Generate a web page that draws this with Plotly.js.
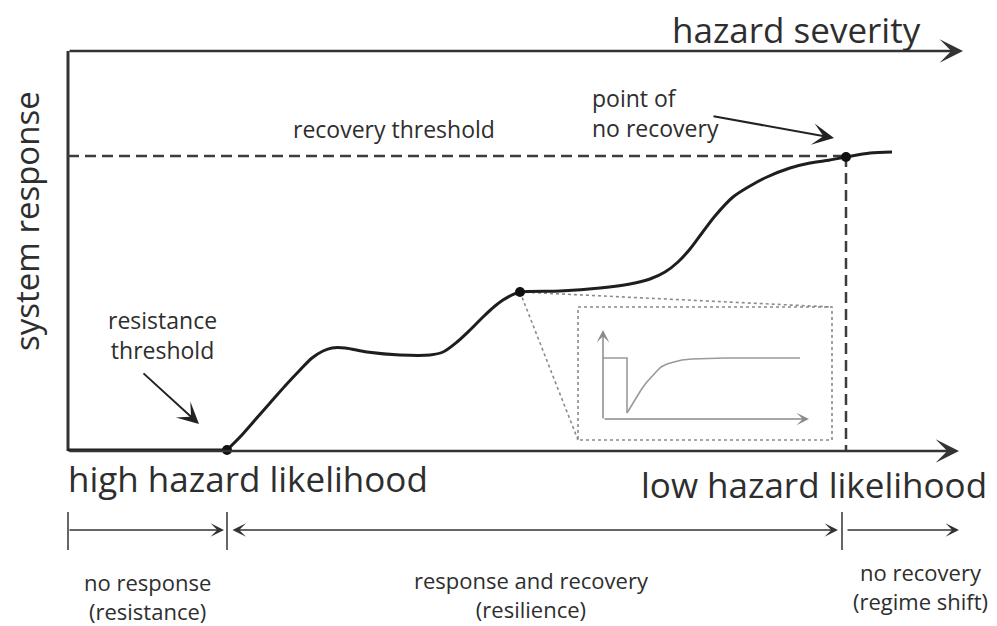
<!DOCTYPE html>
<html>
<head>
<meta charset="utf-8">
<script src="https://cdn.plot.ly/plotly-3.0.1.min.js"></script>
<style>html,body{margin:0;padding:0;background:#fff;}#chart{width:997px;height:626px;}</style>
</head>
<body>
<div id="chart"></div>
<script>
// ---- Data (diagram coordinates) ----
// flat no-response part of the curve
const flatX = [68, 227];
const flatY = [450, 450];
// main system-response curve after the resistance threshold
const curveX = [227, 240, 255, 270, 285, 300, 312, 323, 332, 345, 367, 400, 430, 443, 457, 470, 483, 495, 503, 512, 520,
                560, 600, 630, 650, 665, 678, 690, 702, 715, 733, 750, 767, 790, 810, 830, 846, 870, 892];
const curveY = [450, 437, 420, 403, 386, 370, 358, 351, 348, 348, 352, 355, 355, 352, 342, 330, 317, 306, 300, 295, 292,
                291, 288, 284, 279, 272, 262, 249, 233, 216, 197, 186, 177, 168, 163, 160, 157, 153, 152];
// key points: resistance threshold, start of recovery plateau, point of no recovery
const keyX = [227, 520, 846];
const keyY = [450, 292, 157];
// inset: pre-shock level and drop
const insetStepX = [603, 627, 627];
const insetStepY = [358, 358, 413];
// inset: recovery curve after the shock
const insetRecX = [627, 631, 636, 641, 646, 651, 656, 661, 667, 674, 682, 692, 705, 725, 760, 800];
const insetRecY = [413, 406, 398, 390, 383, 377, 372, 367, 364, 362, 360, 359, 358.5, 358, 358, 358];

// labels
const labels = {
  top: 'hazard severity',
  left: 'system response',
  recovery: 'recovery threshold',
  noRecoveryPt: 'point of<br>no recovery',
  resistance: 'resistance<br>threshold',
  high: 'high hazard likelihood',
  low: 'low hazard likelihood',
  zone1: 'no response<br>(resistance)',
  zone2: 'response and recovery<br>(resilience)',
  zone3: 'no recovery<br>(regime shift)'
};

const FONT = 'Open Sans, sans-serif';
const TXT = '#2e2e2e';
const DARK = '#333333';
const GRAY = '#8a8a8a';

const traces = [
  {x: insetStepX, y: insetStepY, mode: 'lines', line: {color: '#9a9a9a', width: 1.6}, hoverinfo: 'skip'},
  {x: insetRecX, y: insetRecY, mode: 'lines', line: {color: '#9a9a9a', width: 1.6}, hoverinfo: 'skip'},
  {x: flatX, y: flatY, mode: 'lines', line: {color: '#1e1e1e', width: 3}, hoverinfo: 'skip'},
  {x: curveX, y: curveY, mode: 'lines', line: {color: '#1e1e1e', width: 3, shape: 'spline', smoothing: 0.8}, hoverinfo: 'skip'},
  {x: keyX, y: keyY, mode: 'markers', marker: {color: '#111', size: 10}, hoverinfo: 'skip'}
];

function seg(x0, y0, x1, y1, color, width, dash) {
  return {type: 'line', xref: 'x', yref: 'y', x0: x0, y0: y0, x1: x1, y1: y1,
          line: {color: color, width: width, dash: dash || 'solid'}, layer: 'below'};
}
const shapes = [
  seg(68, 51, 68, 451, DARK, 3),
  seg(68, 156, 846, 156, '#3c3c3c', 2.5, '11px,6px'),
  seg(846, 156, 846, 451, '#3c3c3c', 2.5, '11px,6px'),
  {type: 'rect', xref: 'x', yref: 'y', x0: 578, y0: 307, x1: 832, y1: 440,
   line: {color: GRAY, width: 1.6, dash: 'dot'}, layer: 'below'},
  seg(520, 292, 578, 440, GRAY, 1.6, 'dot'),
  seg(520, 292, 832, 307, GRAY, 1.6, 'dot'),
  seg(68, 512, 68, 550, DARK, 1.5),
  seg(227, 512, 227, 550, DARK, 1.5),
  seg(842, 512, 842, 550, DARK, 1.5)
];

function arrow(x0, y0, x1, y1, color, width, size, both) {
  return {x: x1, y: y1, ax: x0, ay: y0, xref: 'x', yref: 'y', axref: 'x', ayref: 'y',
          text: '', showarrow: true, arrowhead: 3, arrowsize: size, arrowwidth: width,
          arrowcolor: color, standoff: 0, startstandoff: 0,
          arrowside: both ? 'end+start' : 'end', startarrowhead: 3, startarrowsize: size,
          font: {size: 1}};
}
function label(text, x, y, size, xanchor, align, angle) {
  return {x: x, y: y, xref: 'x', yref: 'y', text: text, showarrow: false,
          xanchor: xanchor || 'center', yanchor: 'middle', align: align || 'center',
          textangle: angle || 0, font: {family: FONT, size: size, color: TXT}};
}

const annotations = [
  arrow(68, 51, 963, 51, DARK, 2.6, 1.5),
  arrow(68, 451, 959, 451, DARK, 2.6, 1.5),
  arrow(142, 372, 199, 424, '#222', 2, 1.8),
  arrow(712, 116, 834, 138, '#222', 2, 1.8),
  arrow(68, 530, 224, 530, DARK, 1.5, 1.5),
  arrow(231, 530, 838, 530, DARK, 1.5, 1.5, true),
  arrow(846, 530, 959, 530, DARK, 1.5, 1.5),
  arrow(603, 420, 603, 330, GRAY, 1.5, 1.4),
  arrow(603, 419, 809, 419, GRAY, 1.5, 1.4),
  label(labels.top, 796, 29, 35),
  label(labels.left, 26, 221, 33, 'center', 'center', -90),
  label(labels.recovery, 394, 129, 23),
  label(labels.noRecoveryPt, 590, 113, 23, 'left', 'left'),
  label(labels.resistance, 162, 335, 23),
  label(labels.high, 66, 478, 35, 'left', 'left'),
  label(labels.low, 989, 484, 35, 'right', 'right'),
  label(labels.zone1, 147, 596, 22),
  label(labels.zone2, 531, 594, 22),
  label(labels.zone3, 920, 586, 22)
];

const layout = {
  width: 997, height: 626,
  margin: {l: 0, r: 0, t: 0, b: 0},
  paper_bgcolor: '#ffffff', plot_bgcolor: '#ffffff',
  showlegend: false,
  xaxis: {range: [0, 997], visible: false, fixedrange: true},
  yaxis: {range: [626, 0], visible: false, fixedrange: true},
  shapes: shapes,
  annotations: annotations
};

Plotly.newPlot('chart', traces, layout, {displayModeBar: false, staticPlot: true});
</script>
</body>
</html>
